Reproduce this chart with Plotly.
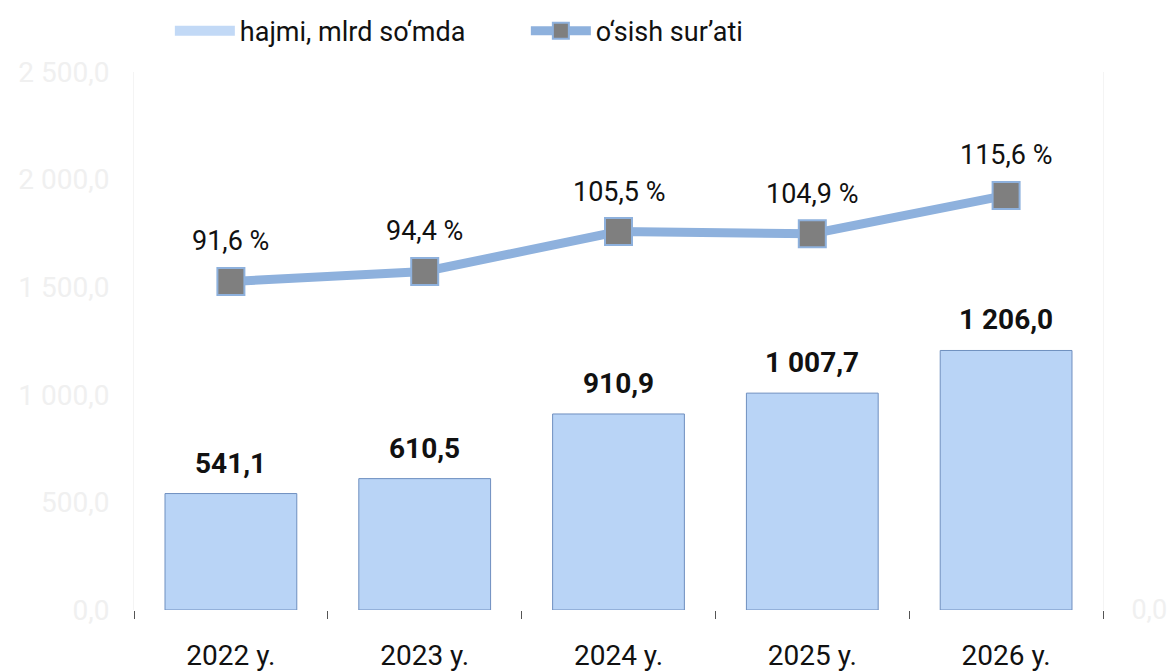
import plotly.graph_objects as go

years = ["2022 y.", "2023 y.", "2024 y.", "2025 y.", "2026 y."]
volume = [541.1, 610.5, 910.9, 1007.7, 1206.0]
growth = [91.6, 94.4, 105.5, 104.9, 115.6]

left_ticks = [0, 500, 1000, 1500, 2000, 2500]


def fmt(v):
    return f"{v:,.1f}".replace(",", " ").replace(".", ",")


fig = go.Figure()

fig.add_trace(
    go.Bar(
        x=years,
        y=volume,
        name="hajmi, mlrd so‘mda",
        width=0.68,
        showlegend=False,
        marker={"color": "#b9d4f6", "line": {"color": "#6f8fbf", "width": 1}},
    )
)

# legend swatch for the bars (wide rectangle like the original)
fig.add_trace(
    go.Scatter(
        x=[None],
        y=[None],
        name="hajmi, mlrd so‘mda",
        mode="lines",
        line={"color": "#c2d9f6", "width": 17},
    )
)

fig.add_trace(
    go.Scatter(
        x=years,
        y=growth,
        name="o‘sish sur’ati",
        yaxis="y2",
        mode="lines+markers",
        line={"color": "#8eb1dd", "width": 9},
        marker={
            "symbol": "square",
            "size": 27,
            "color": "#7f7f7f",
            "line": {"color": "#8eb1dd", "width": 2},
        },
    )
)

annotations = []
for x, v in zip(years, volume):
    annotations.append(
        dict(
            x=x, y=v, text=fmt(v), showarrow=False, yanchor="bottom", yshift=12,
            font={"size": 28, "color": "#111111", "family": "Roboto", "weight": "bold"},
        )
    )
for x, v in zip(years, growth):
    annotations.append(
        dict(
            x=x, y=v, yref="y2", text=fmt(v) + " %", showarrow=False,
            yanchor="middle", yshift=40,
            font={"size": 27, "color": "#111111", "family": "Roboto"},
        )
    )

fig.update_layout(
    width=1171,
    height=671,
    margin={"l": 134, "r": 68, "t": 72, "b": 61, "autoexpand": False},
    paper_bgcolor="white",
    plot_bgcolor="white",
    font={"family": "Roboto", "size": 27, "color": "#111111"},
    separators=", ",
    showlegend=True,
    legend={
        "orientation": "h",
        "yref": "container",
        "x": 0.037,
        "y": 0.99,
        "xanchor": "left",
        "yanchor": "top",
        "font": {"size": 27},
        "itemwidth": 60,
        "entrywidth": 281,
        "traceorder": "normal",
    },
    annotations=annotations,
    xaxis={
        "type": "category",
        "automargin": False,
        "tickson": "boundaries",
        "ticks": "outside",
        "ticklen": 8,
        "tickcolor": "#555555",
        "ticklabelstandoff": 26,
        "showline": False,
        "showgrid": False,
        "tickfont": {"size": 28},
    },
    yaxis={
        "range": [0, 2500],
        "automargin": False,
        "tickvals": left_ticks,
        "tickformat": ",.1f",
        "ticklabelstandoff": 18,
        "showgrid": False,
        "zeroline": False,
        "showline": True,
        "linecolor": "#f4f4f4",
        "tickfont": {"size": 28, "color": "#f0f0f0"},
    },
    yaxis2={
        "overlaying": "y",
        "side": "right",
        "automargin": False,
        "range": [0, 150],
        "tickvals": [0],
        "tickformat": ",.1f",
        "ticklabelstandoff": 22,
        "showgrid": False,
        "zeroline": False,
        "showline": True,
        "linecolor": "#f4f4f4",
        "tickfont": {"size": 27, "color": "#f0f0f0"},
    },
)

fig.write_html(
    "out.html",
    config={"displayModeBar": False},
    post_script="document.body.style.margin = '0';",
)
